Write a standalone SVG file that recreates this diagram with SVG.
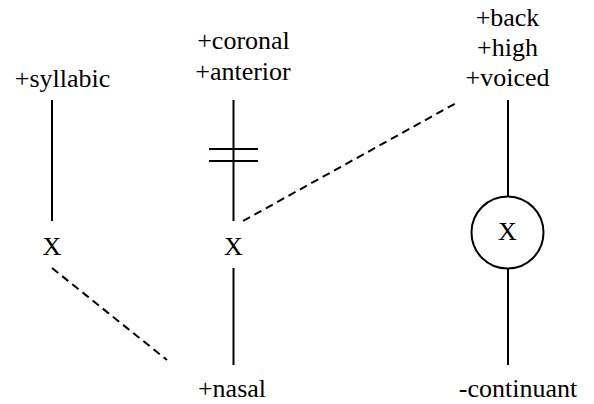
<svg xmlns="http://www.w3.org/2000/svg" width="594" height="404" viewBox="0 0 594 404">
<style>
.s{stroke:#000;stroke-width:2;fill:none}
.d{stroke:#000;stroke-width:2;fill:none;stroke-dasharray:8 5}
</style>
<rect width="594" height="404" fill="#fff"/>
<g font-family="Liberation Serif, serif" font-size="26" fill="#000" text-anchor="middle">
<g id="syllabic"><text x="62.5" y="87">+syllabic</text></g>
<g id="coronal"><text x="243.5" y="49">+coronal</text><text x="243" y="80">+anterior</text></g>
<g id="back"><text x="507.5" y="26">+back</text><text x="507.5" y="56">+high</text><text x="507.5" y="86">+voiced</text></g>
<g id="x1"><text x="52" y="255">X</text></g>
<g id="x2"><text x="233.5" y="255">X</text></g>
<g id="x3"><circle class="s" cx="507.5" cy="232.5" r="36"/><text x="507.5" y="240">X</text></g>
<g id="nasal"><text x="232" y="397">+nasal</text></g>
<g id="continuant"><text x="518" y="397">-continuant</text></g>
</g>
<g id="connectors">
<line class="s" x1="52" y1="100" x2="52" y2="221"/>
<line class="s" x1="233.5" y1="100" x2="233.5" y2="221"/>
<line class="s" x1="209" y1="149" x2="258" y2="149"/>
<line class="s" x1="209" y1="161" x2="258" y2="161"/>
<line class="s" x1="233.5" y1="268" x2="233.5" y2="365"/>
<line class="s" x1="508" y1="100" x2="508" y2="196.5"/>
<line class="s" x1="508" y1="268.5" x2="508" y2="365"/>
<line class="d" x1="243" y1="221" x2="458" y2="102"/>
<line class="d" x1="52" y1="268" x2="167" y2="360"/>
</g>
</svg>
